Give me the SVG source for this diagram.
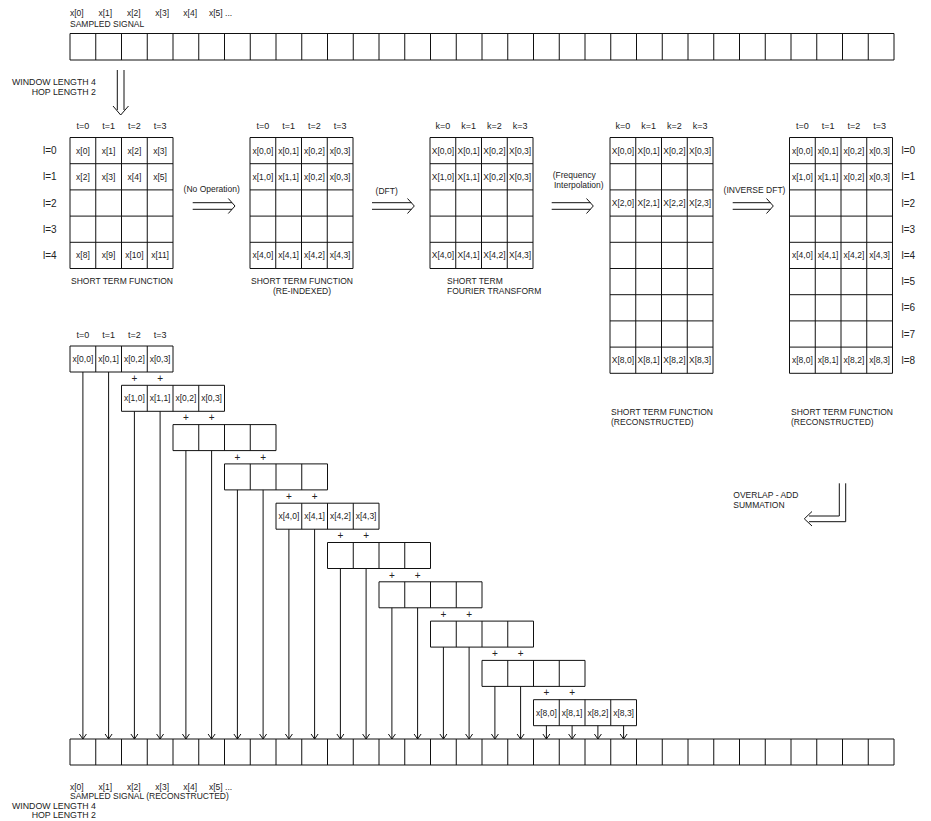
<svg xmlns="http://www.w3.org/2000/svg" width="931" height="821" viewBox="0 0 931 821">
<defs>
<style>
text{font-family:"Liberation Sans",Arial,sans-serif;font-size:8.5px;fill:#222}
.c{text-anchor:middle}
.e{text-anchor:end}
.h{font-size:9px}
.r{font-size:10px}
.p{font-size:10px;text-anchor:middle}
.g{fill:none;stroke:#111;stroke-width:1}
.a{fill:none;stroke:#111;stroke-width:1}
</style>
<marker id="ah" viewBox="-6 -5 7 10" refX="0" refY="0" markerWidth="7" markerHeight="10" markerUnits="userSpaceOnUse" orient="auto">
<path d="M-5,-3.5 L0,0 L-5,3.5" fill="none" stroke="#111" stroke-width="1"/>
</marker>
</defs>
<rect width="931" height="821" fill="#fff"/>

<g id="signal-top">
<text x="70" y="15.5">x[0]</text><text x="98.5" y="15.5">x[1]</text><text x="127" y="15.5">x[2]</text><text x="155.3" y="15.5">x[3]</text><text x="183.3" y="15.5">x[4]</text><text x="209" y="15.5">x[5] ...</text>
<text x="70" y="27.3">SAMPLED SIGNAL</text>
<path class="g" d="M70,33.5H894V60H70Z M95.75,33.5v26.5M121.5,33.5v26.5M147.25,33.5v26.5M173,33.5v26.5M198.75,33.5v26.5M224.5,33.5v26.5M250.25,33.5v26.5M276,33.5v26.5M301.75,33.5v26.5M327.5,33.5v26.5M353.25,33.5v26.5M379,33.5v26.5M404.75,33.5v26.5M430.5,33.5v26.5M456.25,33.5v26.5M482,33.5v26.5M507.75,33.5v26.5M533.5,33.5v26.5M559.25,33.5v26.5M585,33.5v26.5M610.75,33.5v26.5M636.5,33.5v26.5M662.25,33.5v26.5M688,33.5v26.5M713.75,33.5v26.5M739.5,33.5v26.5M765.25,33.5v26.5M791,33.5v26.5M816.75,33.5v26.5M842.5,33.5v26.5M868.25,33.5v26.5"/>
<text class="e" x="96" y="85.3" style="font-size:8.8px">WINDOW LENGTH  4</text>
<text class="e" x="96" y="94.5" style="font-size:8.8px">HOP LENGTH  2</text>
</g>

<g id="stf">
<text class="c h" x="82.9" y="129.3">t=0</text><text class="c h" x="108.6" y="129.3">t=1</text><text class="c h" x="134.4" y="129.3">t=2</text><text class="c h" x="160.1" y="129.3">t=3</text>
<text class="r" x="43" y="154.2">l=0</text><text class="r" x="43" y="180.4">l=1</text><text class="r" x="43" y="206.6">l=2</text><text class="r" x="43" y="232.8">l=3</text><text class="r" x="43" y="259">l=4</text>
<path class="g" d="M70,137.5H173V268.5H70Z M95.75,137.5V268.5M121.5,137.5V268.5M147.25,137.5V268.5 M70,163.7H173M70,189.9H173M70,216.1H173M70,242.3H173"/>
<text class="c" x="82.9" y="153.6">x[0]</text><text class="c" x="108.6" y="153.6">x[1]</text><text class="c" x="134.4" y="153.6">x[2]</text><text class="c" x="160.1" y="153.6">x[3]</text>
<text class="c" x="82.9" y="179.8">x[2]</text><text class="c" x="108.6" y="179.8">x[3]</text><text class="c" x="134.4" y="179.8">x[4]</text><text class="c" x="160.1" y="179.8">x[5]</text>
<text class="c" x="82.9" y="258.4">x[8]</text><text class="c" x="108.6" y="258.4">x[9]</text><text class="c" x="134.4" y="258.4">x[10]</text><text class="c" x="160.1" y="258.4">x[11]</text>
<text class="c" x="122" y="283.5">SHORT TERM FUNCTION</text>
</g>

<g id="stf-reindexed">
<text class="c h" x="262.9" y="129.3">t=0</text><text class="c h" x="288.6" y="129.3">t=1</text><text class="c h" x="314.4" y="129.3">t=2</text><text class="c h" x="340.1" y="129.3">t=3</text>
<path class="g" d="M250,137.5H353V268.5H250Z M275.75,137.5V268.5M301.5,137.5V268.5M327.25,137.5V268.5 M250,163.7H353M250,189.9H353M250,216.1H353M250,242.3H353"/>
<text class="c" x="262.9" y="153.6">x[0,0]</text><text class="c" x="288.6" y="153.6">x[0,1]</text><text class="c" x="314.4" y="153.6">x[0,2]</text><text class="c" x="340.1" y="153.6">x[0,3]</text>
<text class="c" x="262.9" y="179.8">x[1,0]</text><text class="c" x="288.6" y="179.8">x[1,1]</text><text class="c" x="314.4" y="179.8">x[0,2]</text><text class="c" x="340.1" y="179.8">x[0,3]</text>
<text class="c" x="262.9" y="258.4">x[4,0]</text><text class="c" x="288.6" y="258.4">x[4,1]</text><text class="c" x="314.4" y="258.4">x[4,2]</text><text class="c" x="340.1" y="258.4">x[4,3]</text>
<text class="c" x="302" y="283.5">SHORT TERM FUNCTION</text>
<text class="c" x="302" y="294">(RE-INDEXED)</text>
</g>

<g id="stft">
<text class="c h" x="442.9" y="129.3">k=0</text><text class="c h" x="468.6" y="129.3">k=1</text><text class="c h" x="494.4" y="129.3">k=2</text><text class="c h" x="520.1" y="129.3">k=3</text>
<path class="g" d="M430,137.5H533V268.5H430Z M455.75,137.5V268.5M481.5,137.5V268.5M507.25,137.5V268.5 M430,163.7H533M430,189.9H533M430,216.1H533M430,242.3H533"/>
<text class="c" x="442.9" y="153.6">X[0,0]</text><text class="c" x="468.6" y="153.6">X[0,1]</text><text class="c" x="494.4" y="153.6">X[0,2]</text><text class="c" x="520.1" y="153.6">X[0,3]</text>
<text class="c" x="442.9" y="179.8">X[1,0]</text><text class="c" x="468.6" y="179.8">X[1,1]</text><text class="c" x="494.4" y="179.8">X[0,2]</text><text class="c" x="520.1" y="179.8">X[0,3]</text>
<text class="c" x="442.9" y="258.4">X[4,0]</text><text class="c" x="468.6" y="258.4">X[4,1]</text><text class="c" x="494.4" y="258.4">X[4,2]</text><text class="c" x="520.1" y="258.4">X[4,3]</text>
<text x="447" y="283.5">SHORT TERM</text>
<text x="447" y="294">FOURIER TRANSFORM</text>
</g>

<g id="stft-interp">
<text class="c h" x="622.9" y="129.3">k=0</text><text class="c h" x="648.6" y="129.3">k=1</text><text class="c h" x="674.4" y="129.3">k=2</text><text class="c h" x="700.1" y="129.3">k=3</text>
<path class="g" d="M610,137.5H713V373.3H610Z M635.75,137.5V373.3M661.5,137.5V373.3M687.25,137.5V373.3 M610,163.7H713M610,189.9H713M610,216.1H713M610,242.3H713M610,268.5H713M610,294.7H713M610,320.9H713M610,347.1H713"/>
<text class="c" x="622.9" y="153.6">X[0,0]</text><text class="c" x="648.6" y="153.6">X[0,1]</text><text class="c" x="674.4" y="153.6">X[0,2]</text><text class="c" x="700.1" y="153.6">X[0,3]</text>
<text class="c" x="622.9" y="206">X[2,0]</text><text class="c" x="648.6" y="206">X[2,1]</text><text class="c" x="674.4" y="206">X[2,2]</text><text class="c" x="700.1" y="206">X[2,3]</text>
<text class="c" x="622.9" y="363.2">X[8,0]</text><text class="c" x="648.6" y="363.2">X[8,1]</text><text class="c" x="674.4" y="363.2">X[8,2]</text><text class="c" x="700.1" y="363.2">X[8,3]</text>
<text x="611" y="414.7">SHORT TERM FUNCTION</text>
<text x="611" y="424.7">(RECONSTRUCTED)</text>
</g>

<g id="stf-reconstructed">
<text class="c h" x="802.4" y="129.3">t=0</text><text class="c h" x="828.1" y="129.3">t=1</text><text class="c h" x="853.9" y="129.3">t=2</text><text class="c h" x="879.6" y="129.3">t=3</text>
<path class="g" d="M789.5,137.5H892.5V373.3H789.5Z M815.25,137.5V373.3M841,137.5V373.3M866.75,137.5V373.3 M789.5,163.7H892.5M789.5,189.9H892.5M789.5,216.1H892.5M789.5,242.3H892.5M789.5,268.5H892.5M789.5,294.7H892.5M789.5,320.9H892.5M789.5,347.1H892.5"/>
<text class="c" x="802.4" y="153.6">x[0,0]</text><text class="c" x="828.1" y="153.6">x[0,1]</text><text class="c" x="853.9" y="153.6">x[0,2]</text><text class="c" x="879.6" y="153.6">x[0,3]</text>
<text class="c" x="802.4" y="179.8">x[1,0]</text><text class="c" x="828.1" y="179.8">x[1,1]</text><text class="c" x="853.9" y="179.8">x[0,2]</text><text class="c" x="879.6" y="179.8">x[0,3]</text>
<text class="c" x="802.4" y="258.4">x[4,0]</text><text class="c" x="828.1" y="258.4">x[4,1]</text><text class="c" x="853.9" y="258.4">x[4,2]</text><text class="c" x="879.6" y="258.4">x[4,3]</text>
<text class="c" x="802.4" y="363.2">x[8,0]</text><text class="c" x="828.1" y="363.2">x[8,1]</text><text class="c" x="853.9" y="363.2">x[8,2]</text><text class="c" x="879.6" y="363.2">x[8,3]</text>
<text class="r" x="901.5" y="154.2">l=0</text><text class="r" x="901.5" y="180.4">l=1</text><text class="r" x="901.5" y="206.6">l=2</text><text class="r" x="901.5" y="232.8">l=3</text><text class="r" x="901.5" y="259">l=4</text><text class="r" x="901.5" y="285.2">l=5</text><text class="r" x="901.5" y="311.4">l=6</text><text class="r" x="901.5" y="337.6">l=7</text><text class="r" x="901.5" y="363.8">l=8</text>
<text x="791" y="414.7">SHORT TERM FUNCTION</text>
<text x="791" y="424.7">(RECONSTRUCTED)</text>
</g>

<g id="ola-label">
<text x="733.3" y="497.5">OVERLAP - ADD</text>
<text x="733.3" y="508">SUMMATION</text>
</g>

<g id="frame-0">
<text class="c h" x="82.9" y="338">t=0</text><text class="c h" x="108.6" y="338">t=1</text><text class="c h" x="134.4" y="338">t=2</text><text class="c h" x="160.1" y="338">t=3</text>
<path class="g" d="M70,346h103v26h-103Z M95.75,346v26M121.5,346v26M147.25,346v26"/>
<text class="c" x="82.9" y="362">x[0,0]</text><text class="c" x="108.6" y="362">x[0,1]</text><text class="c" x="134.4" y="362">x[0,2]</text><text class="c" x="160.1" y="362">x[0,3]</text>
</g>
<g id="frame-1">
<path class="g" d="M121.5,385.3h103v26h-103Z M147.25,385.3v26M173,385.3v26M198.75,385.3v26"/>
<text class="c" x="134.4" y="401.3">x[1,0]</text><text class="c" x="160.1" y="401.3">x[1,1]</text><text class="c" x="185.9" y="401.3">x[0,2]</text><text class="c" x="211.6" y="401.3">x[0,3]</text>
</g>
<g id="frame-2"><path class="g" d="M173,424.6h103v26h-103Z M198.75,424.6v26M224.5,424.6v26M250.25,424.6v26"/></g>
<g id="frame-3"><path class="g" d="M224.5,463.9h103v26h-103Z M250.25,463.9v26M276,463.9v26M301.75,463.9v26"/></g>
<g id="frame-4">
<path class="g" d="M276,503.2h103v26h-103Z M301.75,503.2v26M327.5,503.2v26M353.25,503.2v26"/>
<text class="c" x="288.9" y="519.2">x[4,0]</text><text class="c" x="314.6" y="519.2">x[4,1]</text><text class="c" x="340.4" y="519.2">x[4,2]</text><text class="c" x="366.1" y="519.2">x[4,3]</text>
</g>
<g id="frame-5"><path class="g" d="M327.5,542.5h103v26h-103Z M353.25,542.5v26M379,542.5v26M404.75,542.5v26"/></g>
<g id="frame-6"><path class="g" d="M379,581.8h103v26h-103Z M404.75,581.8v26M430.5,581.8v26M456.25,581.8v26"/></g>
<g id="frame-7"><path class="g" d="M430.5,621.1h103v26h-103Z M456.25,621.1v26M482,621.1v26M507.75,621.1v26"/></g>
<g id="frame-8"><path class="g" d="M482,660.4h103v26h-103Z M507.75,660.4v26M533.5,660.4v26M559.25,660.4v26"/></g>
<g id="frame-9">
<path class="g" d="M533.5,699.7h103v26h-103Z M559.25,699.7v26M585,699.7v26M610.75,699.7v26"/>
<text class="c" x="546.4" y="715.7">x[8,0]</text><text class="c" x="572.1" y="715.7">x[8,1]</text><text class="c" x="597.9" y="715.7">x[8,2]</text><text class="c" x="623.6" y="715.7">x[8,3]</text>
</g>

<g id="plus-signs">
<text class="p" x="134.4" y="382">+</text><text class="p" x="160.1" y="382">+</text>
<text class="p" x="185.9" y="421.3">+</text><text class="p" x="211.6" y="421.3">+</text>
<text class="p" x="237.4" y="460.6">+</text><text class="p" x="263.1" y="460.6">+</text>
<text class="p" x="288.9" y="499.9">+</text><text class="p" x="314.6" y="499.9">+</text>
<text class="p" x="340.4" y="539.2">+</text><text class="p" x="366.1" y="539.2">+</text>
<text class="p" x="391.9" y="578.5">+</text><text class="p" x="417.6" y="578.5">+</text>
<text class="p" x="443.4" y="617.8">+</text><text class="p" x="469.1" y="617.8">+</text>
<text class="p" x="494.9" y="657.1">+</text><text class="p" x="520.6" y="657.1">+</text>
<text class="p" x="546.4" y="696.4">+</text><text class="p" x="572.1" y="696.4">+</text>
</g>

<g id="signal-bottom">
<path class="g" d="M70,739H894V765H70Z M95.75,739v26M121.5,739v26M147.25,739v26M173,739v26M198.75,739v26M224.5,739v26M250.25,739v26M276,739v26M301.75,739v26M327.5,739v26M353.25,739v26M379,739v26M404.75,739v26M430.5,739v26M456.25,739v26M482,739v26M507.75,739v26M533.5,739v26M559.25,739v26M585,739v26M610.75,739v26M636.5,739v26M662.25,739v26M688,739v26M713.75,739v26M739.5,739v26M765.25,739v26M791,739v26M816.75,739v26M842.5,739v26M868.25,739v26"/>
<text x="70" y="789.5">x[0]</text><text x="98.5" y="789.5">x[1]</text><text x="127" y="789.5">x[2]</text><text x="155.3" y="789.5">x[3]</text><text x="183.3" y="789.5">x[4]</text><text x="209" y="789.5">x[5] ...</text>
<text x="70" y="799">SAMPLED SIGNAL (RECONSTRUCTED)</text>
<text class="e" x="96" y="809" style="font-size:8.8px">WINDOW LENGTH  4</text>
<text class="e" x="96" y="818" style="font-size:8.8px">HOP LENGTH  2</text>
</g>

<g id="connectors">
<path class="a" d="M117.3,70V110M124,70V110M113,106L120.7,115L128.5,106"/>
<text class="c" x="211.7" y="192.3">(No Operation)</text>
<path class="a" d="M192.7,202.7H232M192.7,209.3H232M228.3,198.5L235,206L228.3,213.5"/>
<text class="c" x="386.7" y="194">(DFT)</text>
<path class="a" d="M372,202.7H411.5M372,209.3H411.5M407.5,198.5L414.3,206L407.5,213.5"/>
<text x="552.7" y="178">(Frequency</text>
<text x="554" y="188">Interpolation)</text>
<path class="a" d="M551.7,202.7H590.5M551.7,209.3H590.5M586.5,198.5L593.3,206L586.5,213.5"/>
<text class="c" x="754.5" y="193">(INVERSE DFT)</text>
<path class="a" d="M732.7,202.7H770.5M732.7,209.3H770.5M766.5,198.5L773.3,206L766.5,213.5"/>
<path class="a" d="M845.7,483.3V521.7H809M839.3,483.3V516H809M812,511.5L804.3,518.8L812,526"/>
<g class="a" marker-end="url(#ah)">
<path d="M82.9,372V739"/><path d="M108.6,372V739"/>
<path d="M134.4,411.3V739"/><path d="M160.1,411.3V739"/>
<path d="M185.9,450.6V739"/><path d="M211.6,450.6V739"/>
<path d="M237.4,489.9V739"/><path d="M263.1,489.9V739"/>
<path d="M288.9,529.2V739"/><path d="M314.6,529.2V739"/>
<path d="M340.4,568.5V739"/><path d="M366.1,568.5V739"/>
<path d="M391.9,607.8V739"/><path d="M417.6,607.8V739"/>
<path d="M443.4,647.1V739"/><path d="M469.1,647.1V739"/>
<path d="M494.9,686.4V739"/><path d="M520.6,686.4V739"/>
<path d="M546.4,725.7V739"/><path d="M572.1,725.7V739"/><path d="M597.9,725.7V739"/><path d="M623.6,725.7V739"/>
</g>
</g>
</svg>
